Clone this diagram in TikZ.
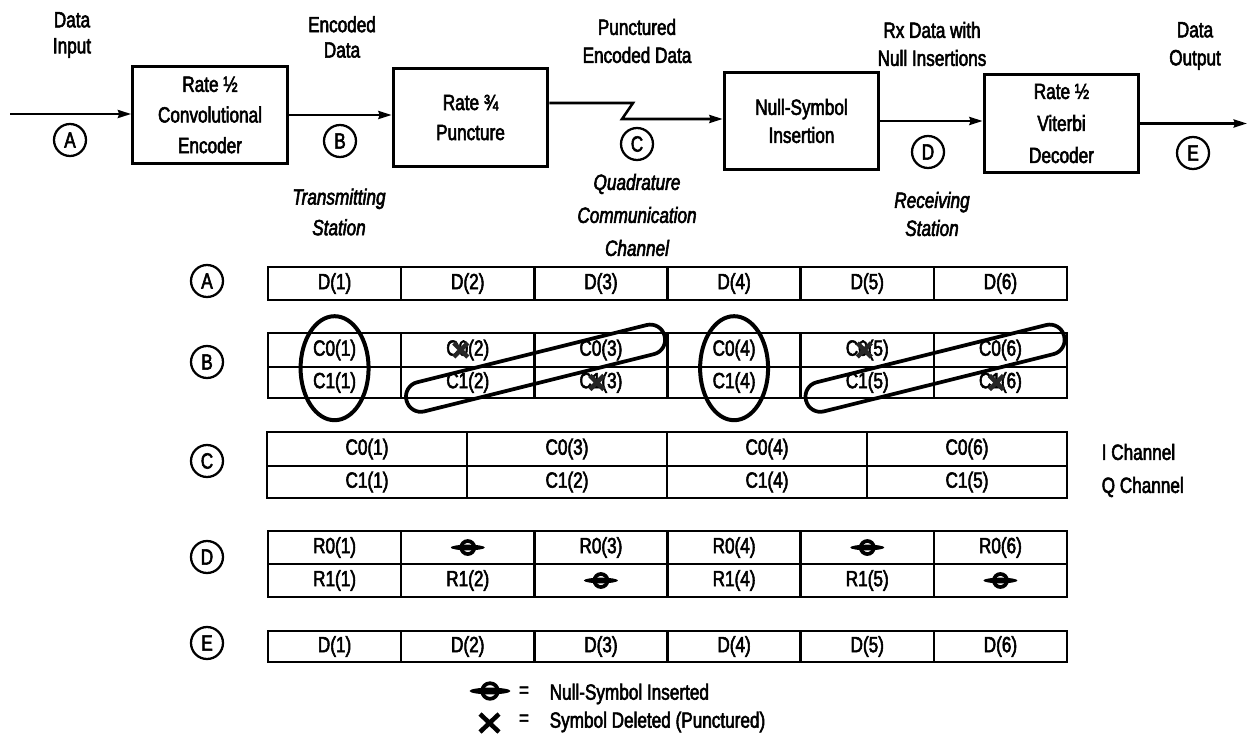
\documentclass[tikz,border=0pt]{standalone}
\usepackage{fontspec}
\setmainfont{Liberation Sans}[FakeStretch=0.78,FakeBold=2.5]
\usetikzlibrary{arrows.meta,shapes.geometric,calc}
\newcommand\fsz[1]{\fontsize{16.5}{#1}\selectfont}
\begin{document}
\begin{tikzpicture}[x=0.75pt,y=-0.75pt,
  every node/.style={font=\fsz{20}},
  blk/.style={draw,line width=2.2pt,minimum width=116pt,minimum height=73pt,align=center,inner sep=0pt},
  lbl/.style={draw,circle,line width=1.7pt,minimum size=24pt,inner sep=0pt},
  conn/.style={line width=1.9pt,-{Stealth[length=10pt,width=6pt,inset=1pt]}},
  cell/.style={draw,line width=1.8pt,inner sep=0pt,minimum width=99.88pt,minimum height=#1},
  cell/.default=24pt,
  ccell/.style={draw,line width=1.8pt,inner sep=0pt,minimum width=150pt,minimum height=#1},
  ccell/.default=24pt,
  ring/.style={draw,ellipse,line width=3pt,minimum width=51pt,minimum height=78pt,inner sep=0pt},
  loopbox/.style={draw,line width=2.8pt,rounded corners=11pt,minimum width=199.5pt,minimum height=22.5pt,inner sep=0pt,rotate=14},
  xmark/.pic={\draw[line width=3.4pt,black!85] (-7,-7)--(7,7) (-7,7)--(7,-7);},
  nullsym/.pic={\fill (0,0) ellipse [x radius=17,y radius=2.8]; \draw[line width=2.8pt] (0,0) circle [radius=6.5];}
]
\fill[white] (0,0) rectangle (1251,745);
\useasboundingbox (0,0) rectangle (1251,745);

% ---------- block diagram ----------
\node[blk,font=\fsz{23}] (b1) at (210,115) {Rate ½\\Convolutional\\Encoder};
\node[blk,font=\fsz{22.5}] (b2) at (470.5,117.5) {Rate ¾\\Puncture};
\node[blk,font=\fsz{21}] (b3) at (801.5,121) {Null-Symbol\\Insertion};
\node[blk,font=\fsz{24}] (b4) at (1061.5,123.5) {Rate ½\\Viterbi\\Decoder};

\coordinate (in) at (10,114);
\coordinate (out) at (1247,124);
\coordinate (z1) at (633,103);
\coordinate (z2) at (622,119);
\draw[conn] (in) -- (in -| b1.west);
\draw[conn] (b1.east) -- (b1.east -| b2.west);
\draw[conn] (z1 -| b2.east) -- (z1) -- (z2) -- (z2 -| b3.west);
\draw[conn] (b3.east) -- (b3.east -| b4.west);
\draw[conn] (b4.east) -- (b4.east -| out);

\node[lbl] (cA) at (70,140) {A};
\node[lbl] (cB) at (340,141) {B};
\node[lbl] (cC) at (637,144) {C};
\node[lbl] (cD) at (928,152) {D};
\node[lbl] (cE) at (1193,153) {E};

\node[align=center,font=\fsz{19.5}] (tA) at (72,35) {Data\\Input};
\node[align=center,font=\fsz{19}] (tB) at (342,37) {Encoded\\Data};
\node[align=center,font=\fsz{21}] (tC) at (637,41) {Punctured\\Encoded Data};
\node[align=center,font=\fsz{21}] (tD) at (932,44) {Rx Data with\\Null Insertions};
\node[align=center,font=\fsz{21}] (tE) at (1195,46) {Data\\Output};
\node[align=center,font=\fsz{23}\itshape] (tTx) at (339,212) {Transmitting\\Station};
\node[align=center,font=\fsz{24.75}\itshape] (tCh) at (637,215) {Quadrature\\Communication\\Channel};
\node[align=center,font=\fsz{21}\itshape] (tRx) at (932,214) {Receiving\\Station};

% ---------- row labels ----------
\foreach \l/\y in {A/281,B/362,C/461,D/557,E/643}
  \node[lbl] (r\l) at (207,\y) {\l};

% ---------- rows A, B, E ----------
\foreach \i in {1,...,6}{
  \pgfmathsetmacro\cx{268+(\i-0.5)*133.17}
  \node[cell=24.75pt] (A\i) at (\cx,283.5) {D(\i)};
  \node[cell=25.5pt] (B0-\i) at (\cx,350) {C0(\i)};
  \node[cell=23.25pt] (B1-\i) at (\cx,382.5) {C1(\i)};
  \node[cell=23.25pt] (E\i) at (\cx,646.5) {D(\i)};
}

% ---------- row C ----------
\foreach \i/\t/\b in {1/1/1,2/3/2,3/4/4,4/6/5}{
  \pgfmathsetmacro\cx{267+(\i-0.5)*200}
  \node[ccell=25.5pt] (C0-\i) at (\cx,449) {C0(\t)};
  \node[ccell=24pt] (C1-\i) at (\cx,482) {C1(\b)};
}
\node[anchor=west] (iq) at (1097,452) {I Channel};
\node[anchor=west] (qq) at (1097,487) {Q Channel};

% ---------- row D ----------
\foreach \i/\t/\b in {1/{R0(1)}/{R1(1)},2/{}/{R1(2)},3/{R0(3)}/{},4/{R0(4)}/{R1(4)},5/{}/{R1(5)},6/{R0(6)}/{}}{
  \pgfmathsetmacro\cx{268+(\i-0.5)*133.17}
  \node[cell=24.75pt] (D0-\i) at (\cx,547.5) {\t};
  \node[cell=24.75pt] (D1-\i) at (\cx,580.5) {\b};
}
\pic at (D0-2) {nullsym};
\pic at (D1-3) {nullsym};
\pic at (D0-5) {nullsym};
\pic at (D1-6) {nullsym};

% ---------- groupings in row B ----------
\node[ring] (el1) at (B0-1.south) {};
\node[ring] (el4) at (B0-4.south) {};
\node[loopbox] (lp1) at (B0-2.south east) {};
\node[loopbox] (lp2) at (B0-5.south east) {};
\pic at ($(B0-2)+(-7,0)$) {xmark};
\pic at ($(B1-3)+(-4,0)$) {xmark};
\pic at ($(B0-5)+(-3,0)$) {xmark};
\pic at ($(B1-6)+(-4,0)$) {xmark};

% ---------- legend ----------
\pic[scale=1.2] at (490,691) {nullsym};
\draw[line width=3.4pt] (480,714) -- (499,732) (480,732) -- (499,714);
\node (eq1) at (524,692) {=};
\node (eq2) at (524,720) {=};
\node[anchor=west] (lg1) at (545,694) {Null-Symbol Inserted};
\node[anchor=west] (lg2) at (545,722) {Symbol Deleted (Punctured)};
\end{tikzpicture}
\end{document}
